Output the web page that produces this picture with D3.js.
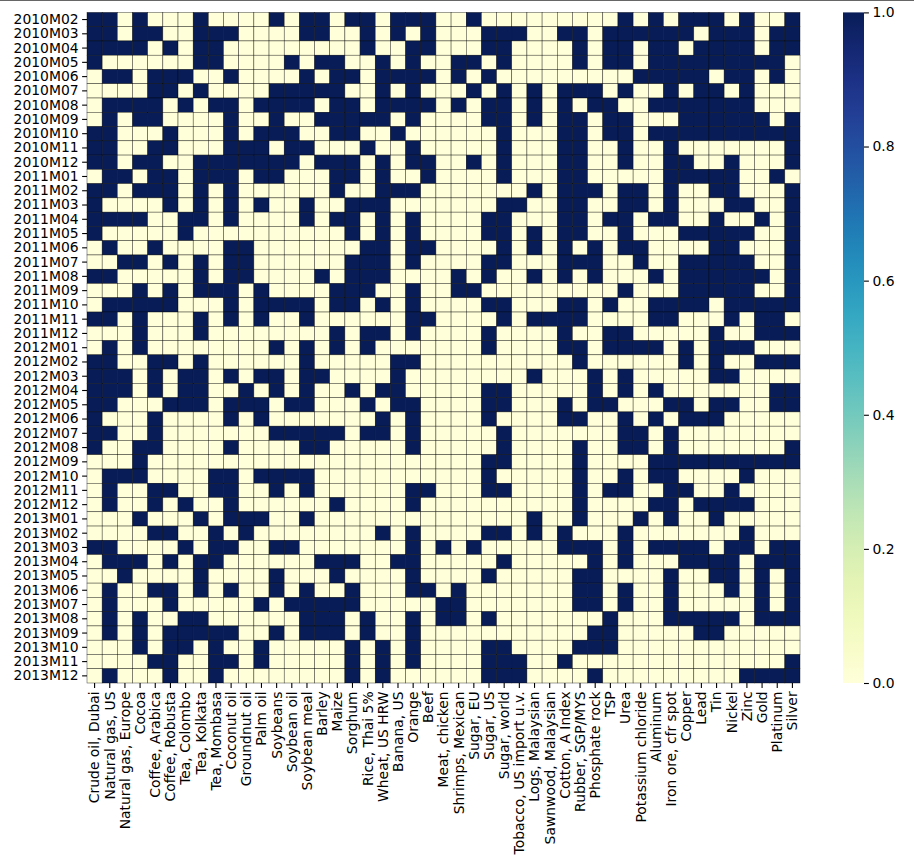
<!DOCTYPE html>
<html>
<head>
<meta charset="utf-8">
<script src="https://cdn.jsdelivr.net/npm/d3@7"></script>
<style>
body { margin: 0; background: #fff; }
text { font-family: "DejaVu Sans", sans-serif; }
</style>
</head>
<body>
<div id="chart"></div>
<script>
// row labels (months)
const months = [
    "2010M02", "2010M03", "2010M04", "2010M05", "2010M06", "2010M07", "2010M08", "2010M09", "2010M10", "2010M11", "2010M12",
    "2011M01", "2011M02", "2011M03", "2011M04", "2011M05", "2011M06", "2011M07", "2011M08", "2011M09", "2011M10", "2011M11", "2011M12",
    "2012M01", "2012M02", "2012M03", "2012M04", "2012M05", "2012M06", "2012M07", "2012M08", "2012M09", "2012M10", "2012M11", "2012M12",
    "2013M01", "2013M02", "2013M03", "2013M04", "2013M05", "2013M06", "2013M07", "2013M08", "2013M09", "2013M10", "2013M11", "2013M12"
];

// column labels
const commodities = [
    "Crude oil, Dubai", "Natural gas, US", "Natural gas, Europe", "Cocoa", "Coffee, Arabica", "Coffee, Robusta",
    "Tea, Colombo", "Tea, Kolkata", "Tea, Mombasa", "Coconut oil", "Groundnut oil", "Palm oil", "Soybeans",
    "Soybean oil", "Soybean meal", "Barley", "Maize", "Sorghum", "Rice, Thai 5%", "Wheat, US HRW", "Banana, US",
    "Orange", "Beef", "Meat, chicken", "Shrimps, Mexican", "Sugar, EU", "Sugar, US", "Sugar, world",
    "Tobacco, US import u.v.", "Logs, Malaysian", "Sawnwood, Malaysian", "Cotton, A Index", "Rubber, SGP/MYS",
    "Phosphate rock", "TSP", "Urea", "Potassium chloride", "Aluminum", "Iron ore, cfr spot", "Copper", "Lead",
    "Tin", "Nickel", "Zinc", "Gold", "Platinum", "Silver"
];

// one string per month, one digit (0/1) per commodity
const values = [
    "11010001000010110110111001000000000101011101001",
    "11011001110000110010101000111001101111110111011",
    "11110101100000000010011000110000101101101111011",
    "10000001100001011001010011010000101101111111110",
    "01101110010000101101111010100000000011111011010",
    "00001101000011111001010001010101110100101101000",
    "01111010110111101101111010110101011001111111000",
    "01011000010010011111010000110101101100011111101",
    "11000100010111001100100000010001101101111111111",
    "11001100011101100010010000010001100100100000001",
    "11011001111111011101011001010001100100110010001",
    "01101101110110001101001000010001100000111110010",
    "11011101010000001001110000000101110110100110001",
    "10000101010100100111000000011001100110100011001",
    "11110011010000101101010000110001101101100100101",
    "10000010000000000101010000110101100100011111001",
    "01001000011000000011011000010101010110000110001",
    "00110101011000000111010000110001110010011111001",
    "11000001011000010111000010100101010001011111101",
    "00010101110100001110010011000000000100011111001",
    "01111100010111101101010000110001101001111011111",
    "11010001010100100000011000010111100001100010110",
    "00010001000000001011010000100001001100000100111",
    "01010000000010101010000000100001101111010111000",
    "11001101000000100000110000000000100000010100111",
    "11101011010110110000100000000100010100000110000",
    "11101011001010100101100000110000010101000000011",
    "11000111011101100010110000110001011000110110011",
    "10001000010100000001010000100001100101011100000",
    "11001000000011111011010000010000000110100000000",
    "10011000010000110000010000010000100110100000001",
    "00010000000000000000000000110000100001111111111",
    "01110000110111100000000000100000100101100001000",
    "01001100110010100000011000110000101100110010000",
    "01001010010000001000010000000000100001101111000",
    "00010001011100100000000000000100100010100100000",
    "00001100101000000001010000110101000100000001000",
    "11000010110011000000010101000001110101111011011",
    "01110101100000011100110000010000010100011110111",
    "00100001000010001000010000100000110000100110101",
    "01001101010010100100011010000000110100100010101",
    "01000100000101111100000110000000110100100000101",
    "01010011000000111010010110100000001000111110111",
    "01010111110010111010010000000000011000001100000",
    "00010110100100000101010000110000111000000000000",
    "00001100110100000101010000111001000000000000001",
    "01000100100000000101000000111000010000000001111"
];

const colorTicks = [0, 0.2, 0.4, 0.6, 0.8, 1.0];

let width = 914;
let height = 861;
let margins = { top: 12.4, right: 114, bottom: 178, left: 87 };

let svg = d3.select("#chart").append("svg").attr("width", width).attr("height", height);

// thin line along the very top of the picture
svg.append("line").attr("x1", 0).attr("x2", width).attr("y1", 0.5).attr("y2", 0.5)
    .attr("stroke", "#666").attr("stroke-width", 1);

const x = d3.scaleBand().domain(commodities).range([margins.left, width - margins.right]);
const y = d3.scaleBand().domain(months).range([margins.top, height - margins.bottom]);
const color = d3.scaleSequential(d3.interpolateYlGnBu).domain([0, 1]);

const cells = [];
months.forEach((m, i) => {
    values[i].split("").forEach((v, j) => {
        cells.push({ month: m, item: commodities[j], value: +v });
    });
});

svg.append("g")
    .selectAll("rect")
    .data(cells)
    .enter().append("rect")
    .attr("x", d => x(d.item))
    .attr("y", d => y(d.month))
    .attr("width", x.bandwidth())
    .attr("height", y.bandwidth())
    .attr("fill", d => color(d.value))
    .attr("stroke", "#000")
    .attr("stroke-opacity", 0.75)
    .attr("stroke-width", 0.5);

// y axis
let yAxis = svg.append("g")
    .attr("transform", "translate(" + margins.left + ",0)")
    .call(d3.axisLeft(y).tickSize(4.9).tickPadding(3.5));
yAxis.select(".domain").remove();
yAxis.selectAll("text").style("font-size", "13.9px").attr("fill", "#000");
yAxis.selectAll("line").attr("stroke-width", 1.1);

// x axis, labels rotated
let xAxis = svg.append("g")
    .attr("transform", "translate(0," + (height - margins.bottom) + ")")
    .call(d3.axisBottom(x).tickSize(4.9).tickPadding(3.5));
xAxis.select(".domain").remove();
xAxis.selectAll("line").attr("stroke-width", 1.1);
xAxis.selectAll("text")
    .style("font-size", "13.9px")
    .attr("fill", "#000")
    .attr("text-anchor", "end")
    .attr("transform", "rotate(-90)")
    .attr("x", -8.4)
    .attr("y", 0)
    .attr("dy", "0.35em");

// colorbar
let cbX = 843, cbW = 21;
let defs = svg.append("defs");
let grad = defs.append("linearGradient").attr("id", "cbgrad")
    .attr("x1", "0").attr("y1", "1").attr("x2", "0").attr("y2", "0");
grad.selectAll("stop")
    .data(d3.range(0, 1.0001, 0.05))
    .enter().append("stop")
    .attr("offset", d => d)
    .attr("stop-color", d => color(d));

svg.append("rect")
    .attr("x", cbX).attr("y", margins.top)
    .attr("width", cbW).attr("height", height - margins.bottom - margins.top)
    .attr("fill", "url(#cbgrad)");

const cbScale = d3.scaleLinear().domain([0, 1]).range([height - margins.bottom, margins.top]);
let cbAxis = svg.append("g")
    .attr("transform", "translate(" + (cbX + cbW) + ",0)")
    .call(d3.axisRight(cbScale).tickValues(colorTicks).tickFormat(d3.format(".1f")).tickSize(4.9).tickPadding(3.5));
cbAxis.select(".domain").remove();
cbAxis.selectAll("text").style("font-size", "13.9px").attr("fill", "#000");
cbAxis.selectAll("line").attr("stroke-width", 1.1);
</script>
</body>
</html>
